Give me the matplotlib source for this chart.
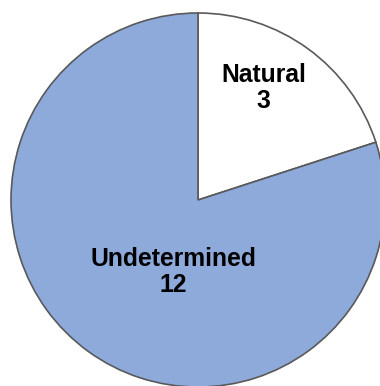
import matplotlib.pyplot as plt

labels = ['Natural', 'Undetermined']
counts = [3, 12]
colors = ['#ffffff', '#8eaadb']
# label anchor points in data units (pie radius = 1)
label_pos = [(0.35, 0.60), (-0.13, -0.385)]

fig = plt.figure(figsize=(3.8, 3.86), dpi=100)
ax = fig.add_axes([11 / 380, -1 / 386, 374 / 380, 374 / 386])

ax.pie(counts, colors=colors, startangle=90, counterclock=False,
       wedgeprops=dict(edgecolor='#595959', linewidth=1.2))

for name, n, (x, y) in zip(labels, counts, label_pos):
    ax.text(x, y, f'{name}\n{n}', ha='center', va='center',
            fontsize=17.8, fontweight='bold', family='Liberation Sans',
            linespacing=1.08)

ax.set_xlim(-1, 1)
ax.set_ylim(-1, 1)
ax.set_aspect('equal')
ax.axis('off')

fig.savefig('out.png', dpi=100)
